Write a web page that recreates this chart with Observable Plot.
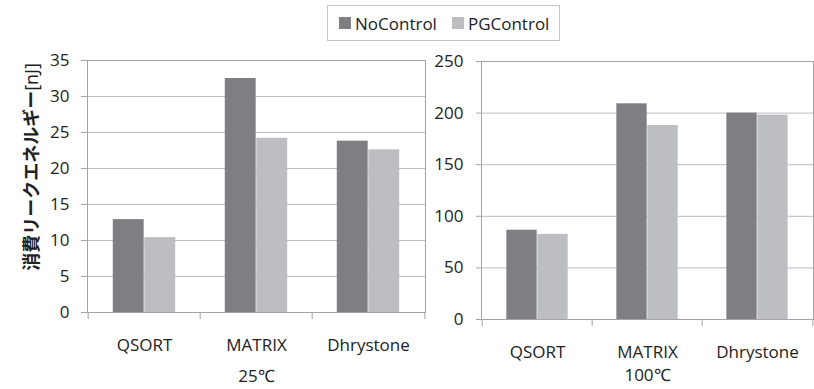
<!DOCTYPE html>
<html>
<head>
<meta charset="utf-8">
<script src="https://cdn.jsdelivr.net/npm/d3@7"></script>
<script src="https://cdn.jsdelivr.net/npm/@observablehq/plot@0.6"></script>
<style>
  body { margin: 0; background: #fff; }
  #wrap { position: relative; width: 814px; height: 389px; overflow: hidden; font-family: "Open Sans", sans-serif; color: #222; }
  #legend { position: absolute; left: 327px; top: 5px; width: 233px; height: 36px; box-sizing: border-box;
            border: 1px solid #c4c4c4; display: flex; align-items: center; padding-left: 11px; font-size: 17px; }
  .item { display: flex; align-items: center; margin-right: 15px; }
  .sw { width: 12px; height: 12px; margin-right: 4px; }
  #ylabel { position: absolute; left: 30px; top: 167px; transform: translate(-50%, -50%) rotate(-90deg);
            white-space: nowrap; font-size: 18px; }
  #ylabel b { font-family: "Noto Sans CJK JP", sans-serif; font-weight: 700; }
  .panel { position: absolute; top: 0; }
</style>
</head>
<body>
<div id="wrap">
  <div id="legend"></div>
  <div id="ylabel"><b>消費リークエネルギー</b><span>[nJ]</span></div>
  <div id="p1" class="panel" style="left:0px"></div>
  <div id="p2" class="panel" style="left:430px"></div>
</div>
<script>
const categories = ["QSORT", "MATRIX", "Dhrystone"];
const seriesNames = ["NoControl", "PGControl"];
const noControl25 = [12.9, 32.5, 23.8];
const pgControl25 = [10.4, 24.2, 22.6];
const noControl100 = [86.5, 209, 200];
const pgControl100 = [82.5, 188, 198];
const panelLabels = ["25℃", "100℃"];
const yTicks25 = [0, 5, 10, 15, 20, 25, 30, 35];
const yTicks100 = [0, 50, 100, 150, 200, 250];

const colors = {NoControl: "#7f7f83", PGControl: "#bdbec2"};
const gridColor = "#bcbcbc";
const axisColor = "#a4a4a4";

// legend
const legend = document.getElementById("legend");
seriesNames.forEach(s => {
  const it = document.createElement("div");
  it.className = "item";
  it.innerHTML = `<div class="sw" style="background:${colors[s]}"></div><span>${s}</span>`;
  legend.appendChild(it);
});

function panel({width, ml, mr, mt, mb, ticks, no, pg, label, labelDy, tickSize, tickPadding, xPad}) {
  const height = 389;
  const bw = (width - ml - mr) / categories.length;
  const outer = 0.22 * bw, bar = 0.28 * bw;
  const dataNo = categories.map((c, i) => ({cat: c, series: "NoControl", val: no[i]}));
  const dataPg = categories.map((c, i) => ({cat: c, series: "PGControl", val: pg[i]}));
  return Plot.plot({
    width, height,
    marginLeft: ml, marginRight: mr, marginTop: mt, marginBottom: mb,
    x: {domain: categories, padding: 0, label: null},
    y: {domain: [ticks[0], ticks[ticks.length - 1]], label: null},
    style: {fontFamily: "Open Sans, sans-serif", fontSize: "17px", color: "#222", background: "transparent", overflow: "visible"},
    marks: [
      Plot.ruleY(ticks.slice(1), {stroke: gridColor}),
      Plot.barY(dataNo, {x: "cat", y: "val", fill: d => colors[d.series], insetLeft: outer, insetRight: bw - outer - bar}),
      Plot.barY(dataPg, {x: "cat", y: "val", fill: d => colors[d.series], insetLeft: outer + bar, insetRight: bw - outer - 2 * bar}),
      Plot.frame({stroke: axisColor}),
      Plot.axisY({ticks, tickSize, tickPadding, stroke: axisColor, fill: "#222", label: null}),
      Plot.axisX({tickSize: 0, tickPadding: xPad, fill: "#222", label: null}),
      Plot.axisX({ticks: categories, tickSize: 7, text: null, dx: -bw / 2, stroke: axisColor, label: null}),
      Plot.axisX({ticks: categories.slice(-1), tickSize: 7, text: null, dx: bw / 2, stroke: axisColor, label: null}),
      Plot.text([label], {frameAnchor: "bottom", dy: labelDy, fill: "#222", fontSize: 17})
    ]
  });
}

document.getElementById("p1").appendChild(panel({
  width: 430, ml: 87, mr: 5, mt: 60, mb: 77, ticks: yTicks25, no: noControl25, pg: pgControl25,
  label: panelLabels[0], labelDy: 69, tickSize: 6, tickPadding: 12, xPad: 26
}));
document.getElementById("p2").appendChild(panel({
  width: 384, ml: 51, mr: 1, mt: 61, mb: 70, ticks: yTicks100, no: noControl100, pg: pgControl100,
  label: panelLabels[1], labelDy: 61, tickSize: 5, tickPadding: 13, xPad: 26
}));
</script>
</body>
</html>
